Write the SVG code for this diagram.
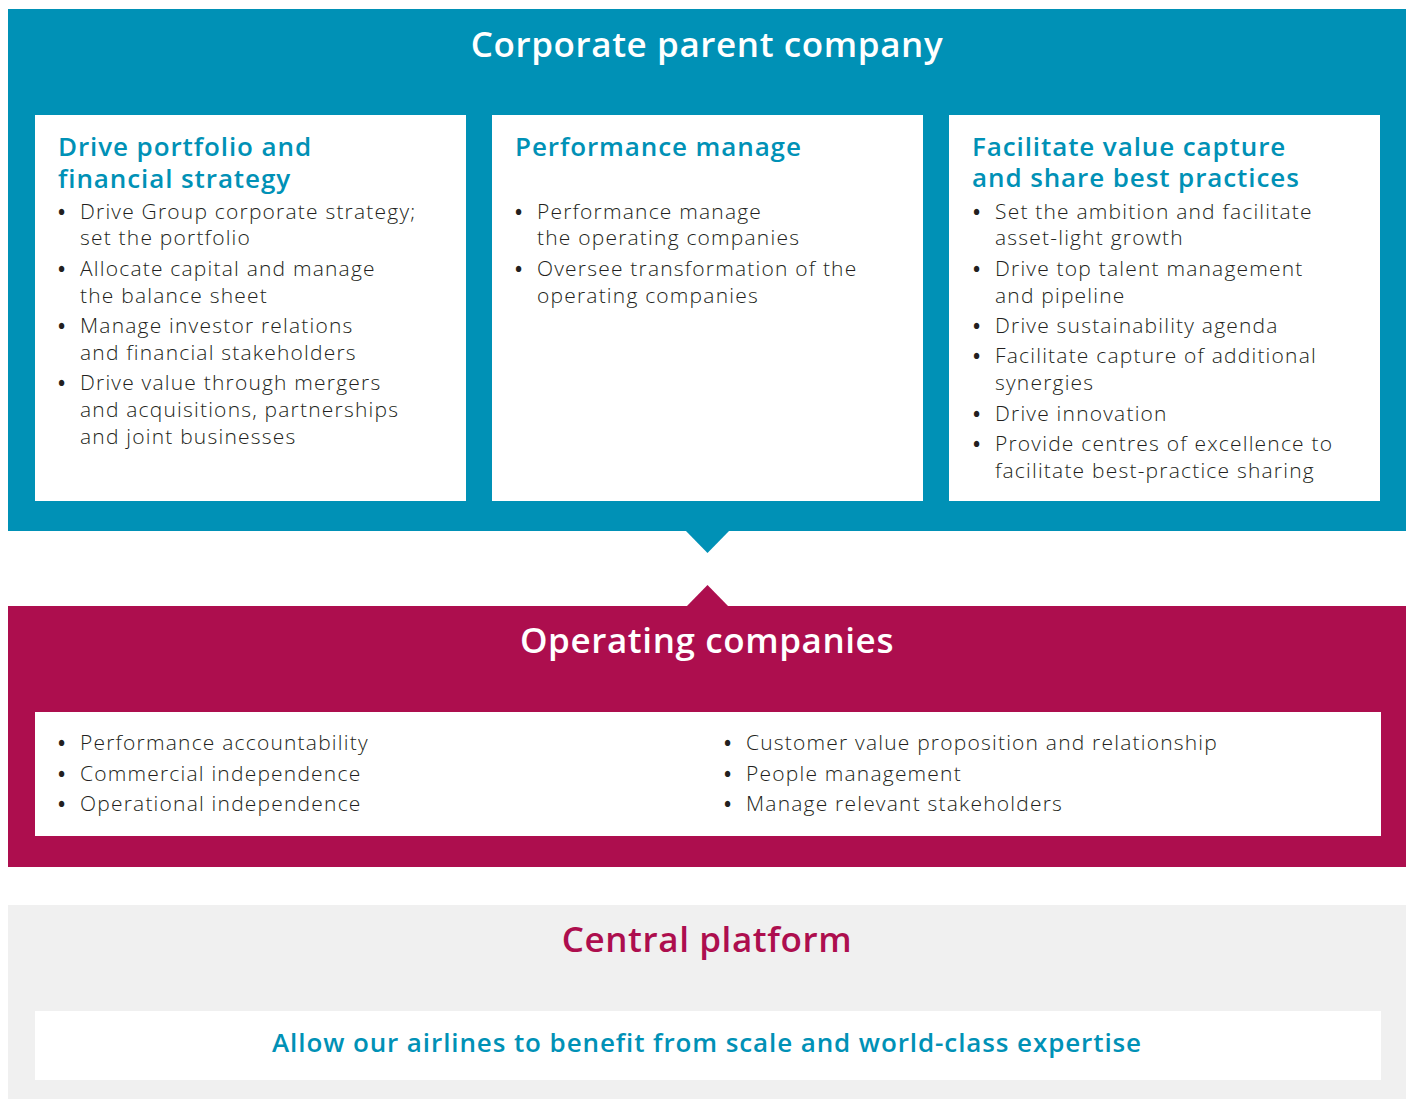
<svg xmlns="http://www.w3.org/2000/svg" width="1406" height="1099" viewBox="0 0 1406 1099">
<style>
.blue{fill:#0091b6}
.mag{fill:#ad0e4e}
.grey{fill:#f0f0f0}
.white{fill:#ffffff}
.hdr{font-family:"Open Sans","Liberation Sans",sans-serif;font-size:35px;font-weight:600;letter-spacing:0.6px;text-anchor:middle}
.ttl{font-family:"Open Sans","Liberation Sans",sans-serif;font-size:26px;font-weight:600;letter-spacing:0.9px;fill:#0091b6}
.txt{font-family:"Open Sans","Liberation Sans",sans-serif;font-size:21px;font-weight:300;letter-spacing:1.2px;fill:#231f20}
.bul{font-family:"Open Sans","Liberation Sans",sans-serif;font-size:19px;font-weight:700;fill:#231f20}
</style>
<rect width="1406" height="1099" fill="#ffffff"/>
<g id="corporate-parent">
<rect class="blue" x="8" y="9" width="1398" height="522"/>
<text class="hdr" x="707" y="57" fill="#ffffff">Corporate parent company</text>
</g>
<g id="box-portfolio">
<rect class="white" x="35" y="115" width="431" height="386"/>
<text class="ttl"><tspan x="58" y="156">Drive portfolio and</tspan><tspan x="58" y="188">financial strategy</tspan></text>
<text class="bul"><tspan x="58" y="219">•</tspan><tspan x="58" y="276">•</tspan><tspan x="58" y="333">•</tspan><tspan x="58" y="390">•</tspan></text>
<text class="txt"><tspan x="80" y="219">Drive Group corporate strategy;</tspan><tspan x="80" y="245">set the portfolio</tspan><tspan x="80" y="276">Allocate capital and manage</tspan><tspan x="80" y="303">the balance sheet</tspan><tspan x="80" y="333">Manage investor relations</tspan><tspan x="80" y="360">and financial stakeholders</tspan><tspan x="80" y="390">Drive value through mergers</tspan><tspan x="80" y="417">and acquisitions, partnerships</tspan><tspan x="80" y="444">and joint businesses</tspan></text>
</g>
<g id="box-performance">
<rect class="white" x="492" y="115" width="431" height="386"/>
<text class="ttl" x="515" y="156">Performance manage</text>
<text class="bul"><tspan x="515" y="219">•</tspan><tspan x="515" y="276">•</tspan></text>
<text class="txt"><tspan x="537" y="219">Performance manage</tspan><tspan x="537" y="245">the operating companies</tspan><tspan x="537" y="276">Oversee transformation of the</tspan><tspan x="537" y="303">operating companies</tspan></text>
</g>
<g id="box-value">
<rect class="white" x="949" y="115" width="431" height="386"/>
<text class="ttl"><tspan x="972" y="156">Facilitate value capture</tspan><tspan x="972" y="187">and share best practices</tspan></text>
<text class="bul"><tspan x="973" y="219">•</tspan><tspan x="973" y="276">•</tspan><tspan x="973" y="333">•</tspan><tspan x="973" y="363">•</tspan><tspan x="973" y="421">•</tspan><tspan x="973" y="451">•</tspan></text>
<text class="txt"><tspan x="995" y="219">Set the ambition and facilitate</tspan><tspan x="995" y="245">asset-light growth</tspan><tspan x="995" y="276">Drive top talent management</tspan><tspan x="995" y="303">and pipeline</tspan><tspan x="995" y="333">Drive sustainability agenda</tspan><tspan x="995" y="363">Facilitate capture of additional</tspan><tspan x="995" y="390">synergies</tspan><tspan x="995" y="421">Drive innovation</tspan><tspan x="995" y="451">Provide centres of excellence to</tspan><tspan x="995" y="478">facilitate best-practice sharing</tspan></text>
</g>
<g id="operating-companies">
<rect class="mag" x="8" y="606" width="1398" height="261"/>
<text class="hdr" x="707" y="653" fill="#ffffff">Operating companies</text>
<rect class="white" x="35" y="712" width="1346" height="124"/>
<text class="bul"><tspan x="58" y="750">•</tspan><tspan x="58" y="781">•</tspan><tspan x="58" y="811">•</tspan><tspan x="724" y="750">•</tspan><tspan x="724" y="781">•</tspan><tspan x="724" y="811">•</tspan></text>
<text class="txt"><tspan x="80" y="750">Performance accountability</tspan><tspan x="80" y="781">Commercial independence</tspan><tspan x="80" y="811">Operational independence</tspan><tspan x="746" y="750">Customer value proposition and relationship</tspan><tspan x="746" y="781">People management</tspan><tspan x="746" y="811">Manage relevant stakeholders</tspan></text>
</g>
<g id="central-platform">
<rect class="grey" x="8" y="905" width="1398" height="194"/>
<text class="hdr" x="707" y="952" fill="#ad0e4e">Central platform</text>
<rect class="white" x="35" y="1011" width="1346" height="69"/>
<text class="ttl" x="707" y="1052" text-anchor="middle">Allow our airlines to benefit from scale and world-class expertise</text>
</g>
<g id="connectors">
<polygon class="blue" points="685,530 730,530 707.5,553"/>
<polygon class="mag" points="686,607 729,607 707.5,585"/>
</g>
</svg>
